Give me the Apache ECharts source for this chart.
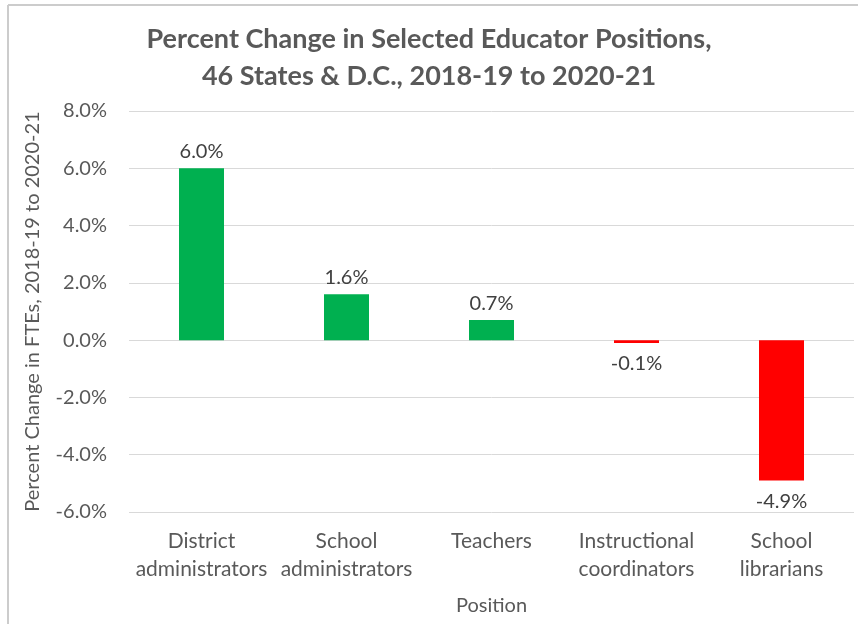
<!DOCTYPE html>
<html>
<head>
<meta charset="utf-8">
<script src="https://cdn.jsdelivr.net/npm/echarts@6/dist/echarts.min.js"></script>
<style>
html,body{margin:0;padding:0;background:#fff;}
#chart{width:858px;height:624px;}
</style>
</head>
<body>
<div id="chart"></div>
<script>
const categories = ["District\nadministrators", "School\nadministrators", "Teachers", "Instructional\ncoordinators", "School\nlibrarians"];
const values = [6.0, 1.6, 0.7, -0.1, -4.9];
const yMin = -6, yMax = 8, yStep = 2;
const titleText = "Percent Change in Selected Educator Positions,\n46 States & D.C., 2018-19 to 2020-21";
const yName = "Percent Change in FTEs, 2018-19 to 2020-21";
const xName = "Position";

const FONT = "Lato";
const TXT = "#595959";
const chart = echarts.init(document.getElementById('chart'), null, {renderer: 'canvas'});
chart.setOption({
  animation: false,
  backgroundColor: '#fff',
  textStyle: {fontFamily: FONT},
  title: {
    text: titleText, left: 'center', top: 16,
    textStyle: {fontFamily: FONT, fontSize: 27, fontWeight: 'bold', color: TXT, lineHeight: 37}
  },
  graphic: [
    {type: 'line', shape: {x1: 8, y1: 5, x2: 858, y2: 5}, style: {stroke: '#cccccc', lineWidth: 2}, silent: true},
    {type: 'line', shape: {x1: 8, y1: 5, x2: 8, y2: 624}, style: {stroke: '#cccccc', lineWidth: 2}, silent: true}
  ],
  grid: {left: 129, right: 4, top: 111, bottom: 112, containLabel: false},
  xAxis: {
    type: 'category', data: categories,
    name: xName, nameLocation: 'middle', nameGap: 84,
    nameTextStyle: {fontFamily: FONT, fontSize: 20, color: TXT},
    axisLine: {show: false}, axisTick: {show: false},
    axisLabel: {fontFamily: FONT, fontSize: 21, color: TXT, margin: 15, lineHeight: 28, interval: 0}
  },
  yAxis: {
    type: 'value', min: yMin, max: yMax, interval: yStep,
    name: yName, nameLocation: 'middle', nameGap: 86,
    nameTextStyle: {fontFamily: FONT, fontSize: 20, color: TXT},
    axisLine: {show: false}, axisTick: {show: false},
    axisLabel: {fontFamily: FONT, fontSize: 20, color: TXT, margin: 22, formatter: v => v.toFixed(1) + '%'},
    splitLine: {lineStyle: {color: '#d9d9d9', width: 1}}
  },
  series: [{
    type: 'bar', barWidth: 45,
    data: values.map(v => ({
      value: v,
      itemStyle: {color: v >= 0 ? '#00B050' : '#FF0000'},
      label: {position: v >= 0 ? 'top' : 'bottom', distance: v >= 0 ? 7 : 11}
    })),
    label: {
      show: true, fontFamily: FONT, fontSize: 20, color: '#404040',
      formatter: p => p.value.toFixed(1) + '%'
    }
  }]
});
</script>
</body>
</html>
